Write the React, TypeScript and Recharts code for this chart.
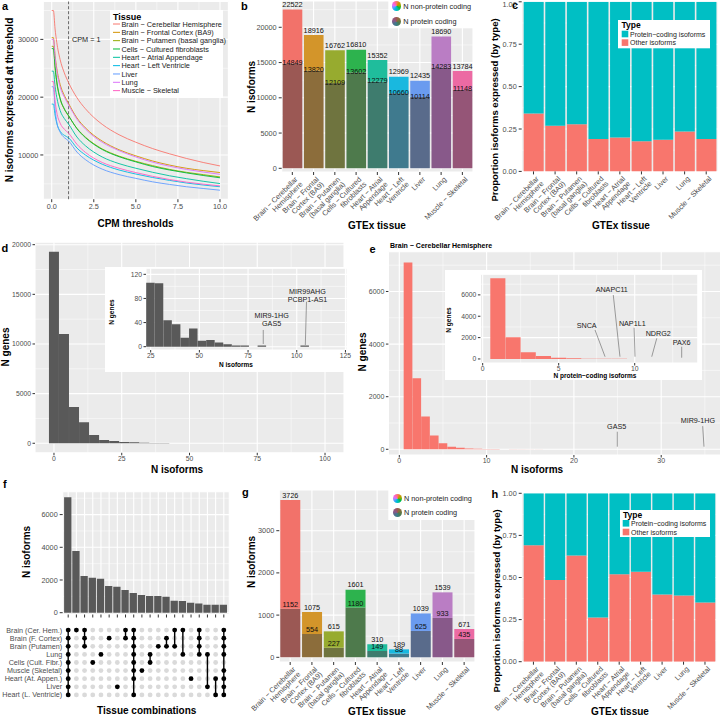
import React from 'react';
import {
  Bar,
  BarChart,
  CartesianGrid,
  Cell,
  LabelList,
  Line,
  LineChart,
  ReferenceDot,
  ReferenceLine,
  Scatter,
  ScatterChart,
  XAxis,
  YAxis,
} from 'recharts';

const FONT = '"Liberation Sans", Arial, Helvetica, sans-serif';
const PANEL = '#EBEBEB';
const TICK = '#4d4d4d';
const TICK_MAIN = { fontSize: 7.3, fill: TICK, fontFamily: FONT };
const TICK_SMALL = { fontSize: 6.8, fill: TICK, fontFamily: FONT };
const TEAL = '#00BFC4';
const SALMON = '#F8766D';

// tissues shared by a, b, c, g, h
const TISSUES = [
  'Brain − Cerebellar Hemisphere',
  'Brain − Frontal Cortex (BA9)',
  'Brain − Putamen (basal ganglia)',
  'Cells − Cultured fibroblasts',
  'Heart − Atrial Appendage',
  'Heart − Left Ventricle',
  'Liver',
  'Lung',
  'Muscle − Skeletal',
];
const TISSUE_TICKS = [
  ['Brain − Cerebellar', 'Hemisphere'],
  ['Brain − Frontal', 'Cortex (BA9)'],
  ['Brain − Putamen', '(basal ganglia)'],
  ['Cells − Cultured', 'fibroblasts'],
  ['Heart − Atrial', 'Appendage'],
  ['Heart − Left', 'Ventricle'],
  ['Liver'],
  ['Lung'],
  ['Muscle − Skeletal'],
];
const HUE = ['#F8766D', '#D39200', '#93AA00', '#00BA38', '#00C19F', '#00B9E3', '#619CFF', '#DB72FB', '#FF61C3'];
const BAR_TOP = ['#F2726A', '#D3952A', '#97AB2F', '#2DB34E', '#1FBD9C', '#19B8DF', '#6A9BEF', '#BA7DC4', '#EC6AA3'];
const BAR_BASE = ['#9B5854', '#8C6D3B', '#6F743F', '#4E7A4C', '#3E7C6E', '#3F7A8E', '#596B8B', '#88598A', '#955577'];

// a: isoforms expressed vs CPM threshold
const CPM_THRESHOLDS = [0, 0.1, 0.2, 0.3, 0.5, 0.75, 1, 1.5, 2, 2.5, 3, 4, 5, 6, 7, 8, 9, 10];
const ISO_CEREBELLAR = [35000, 35000, 31800, 29500, 26500, 24200, 22522, 19900, 18000, 16500, 15300, 13500, 12200, 11100, 10200, 9400, 8700, 8100];
const ISO_FRONTAL = [30300, 30300, 27200, 25000, 22200, 20300, 18916, 16400, 14700, 13400, 12400, 10900, 9850, 8950, 8250, 7700, 7300, 6950];
const ISO_PUTAMEN = [28800, 28800, 25000, 22500, 19700, 17900, 16762, 14600, 13100, 11950, 11050, 9800, 8900, 8150, 7500, 7000, 6600, 6200];
const ISO_CELLS = [28400, 28400, 25300, 22800, 19800, 18000, 16810, 14550, 13000, 11850, 10950, 9700, 8800, 8000, 7400, 6900, 6450, 6050];
const ISO_ATRIAL = [24500, 24500, 21900, 20000, 17700, 16300, 15352, 13100, 11600, 10500, 9650, 8500, 7700, 7000, 6400, 5900, 5450, 5050];
const ISO_LEFT_VENTRICLE = [18800, 18800, 16900, 15500, 14100, 13400, 12969, 11200, 10000, 9100, 8400, 7400, 6700, 6100, 5600, 5150, 4800, 4500];
const ISO_LIVER = [21800, 21800, 17900, 15700, 13950, 13000, 12435, 10500, 9200, 8250, 7550, 6600, 5950, 5350, 4900, 4500, 4200, 3900];
const ISO_LUNG = [30000, 30000, 26900, 24600, 21800, 20000, 18690, 16200, 14500, 13200, 12200, 10750, 9650, 8750, 8050, 7500, 7050, 6650];
const ISO_MUSCLE = [22700, 22700, 19400, 17400, 15500, 14450, 13784, 11850, 10450, 9450, 8700, 7700, 6950, 6300, 5750, 5300, 4950, 4650];
const CPM_SERIES = [ISO_CEREBELLAR, ISO_FRONTAL, ISO_PUTAMEN, ISO_CELLS, ISO_ATRIAL, ISO_LEFT_VENTRICLE, ISO_LIVER, ISO_LUNG, ISO_MUSCLE];

// b, c: all expressed isoforms at CPM 1
const ALL_TOTAL = [22522, 18916, 16762, 16810, 15352, 12969, 12435, 18690, 13784];
const ALL_PROTEIN = [14849, 13820, 12109, 13602, 12279, 10660, 10114, 14283, 11148];
const ALL_NONPROTEIN = [7673, 5096, 4653, 3208, 3073, 2309, 2321, 4407, 2636];

// g, h: tissue-specific isoforms
const SPEC_TOTAL = [3726, 1075, 615, 1601, 310, 189, 1039, 1539, 671];
const SPEC_PROTEIN = [1152, 554, 227, 1180, 149, 88, 625, 933, 435];
const SPEC_NONPROTEIN = [2574, 521, 388, 421, 161, 101, 414, 606, 236];

// d: isoforms per gene
const D_BIN_MID = [0, 3.7, 7.4, 11.1, 14.8, 18.5, 22.2, 25.9, 29.6, 33.3, 37, 40.7, 44.4, 48.1, 81.4, 103.6];
const D_GENES = [19300, 11000, 3650, 2120, 840, 340, 230, 120, 100, 45, 25, 30, 12, 10, 2, 2];
const D_INSET_MID = [24.9, 29.3, 33.7, 38.1, 42.5, 46.9, 51.3, 55.7, 60.1, 64.5, 68.9, 73.3, 82.1, 104.1];
const D_INSET_GENES = [106, 105, 44, 37, 15, 30, 10, 11, 7, 4, 2, 2, 2, 2];

// e: cerebellar hemisphere
const E_MID = [1, 2, 3, 4, 5, 6, 7, 8, 9, 10, 11, 12, 13, 14, 15, 16, 17, 18, 19, 20, 21, 22, 23, 24, 25, 26, 27, 28, 29, 30, 31, 32, 33, 34, 35];
const E_GENES = [7100, 2700, 1250, 520, 230, 100, 55, 30, 18, 12, 8, 5, 4, 3, 2, 2, 1, 1, 1, 1, 1, 1, 1, 1, 1, 1, 1, 1, 1, 1, 1, 1, 1, 1, 1];
const E_INSET_MID = [1, 2, 3, 4, 5, 6, 7, 8, 9, 10, 11, 12, 13];
const E_INSET_GENES = [7550, 2030, 625, 280, 125, 60, 30, 15, 10, 6, 4, 2, 2];

// f: tissue combinations
const MATRIX_ROWS = [
  'Brain (Cer. Hem.)',
  'Brain (F. Cortex)',
  'Brain (Putamen)',
  'Lung',
  'Cells (Cult. Fibr.)',
  'Muscle (Skeletal)',
  'Heart (At. Appen.)',
  'Liver',
  'Heart (L. Ventricle)',
];
const MATRIX_ROW_IDS = [0, 1, 2, 3, 4, 5, 6, 7, 8];
const COMBOS = [
  [0, 1, 2, 3, 4, 5, 6, 7, 8],
  [0],
  [0, 1, 2],
  [4],
  [3],
  [1],
  [7],
  [0, 1],
  [0, 1, 2, 3, 4, 5, 6, 8],
  [5],
  [3, 4],
  [2],
  [1, 2],
  [0, 2],
  [0, 3],
  [6],
  [0, 1, 2, 3],
  [3, 7],
  [6, 8],
  [0, 1, 2, 3, 5, 6, 7, 8],
];
const COMBO_ISOFORMS = [7060, 3780, 2245, 2140, 2080, 1630, 1590, 1390, 1210, 1080, 1020, 1020, 980, 735, 715, 610, 570, 490, 490, 490];

// annotations (data coordinates)
const D_NOTES = [
  { lines: ['MIR9-1HG', 'GAS5'], x: 87.1, y: 47, seg: [[82.8, 27.7], [82.8, 4.5]] },
  { lines: ['MIR99AHG', 'PCBP1-AS1'], x: 105.5, y: 88, seg: [[105, 74.6], [104.4, 2.8]] },
];
const E_NOTES = [
  { lines: ['GAS5'], x: 24.9, y: 764, seg: [[24.97, 669], [24.97, 99]] },
  { lines: ['MIR9-1HG'], x: 34.2, y: 992, seg: [[34.75, 880], [34.9, 99]] },
];
const E_INSET_NOTES = [
  { lines: ['SNCA'], x: 6.84, y: 2881, seg: [[7.39, 2712], [8.05, 212]] },
  { lines: ['ANAPC11'], x: 8.49, y: 6224, seg: [[8.59, 5990], [9.03, 212]] },
  { lines: ['NAP1L1'], x: 9.84, y: 3040, seg: [[9.96, 2928], [10.02, 212]] },
  { lines: ['NDRG2'], x: 11.55, y: 2169, seg: [[11.45, 1935], [11.12, 212]] },
  { lines: ['PAX6'], x: 13.09, y: 1289, seg: [[13.09, 1148], [13.09, 118]] },
];

const cpmRows = CPM_THRESHOLDS.map((cpm, i) => {
  const row: any = { cpm };
  CPM_SERIES.forEach((s, k) => (row['s' + k] = s[i]));
  return row;
});
const allRows = TISSUES.map((name, i) => ({ name, protein: ALL_PROTEIN[i], nonprotein: ALL_NONPROTEIN[i], total: ALL_TOTAL[i] }));
const specRows = TISSUES.map((name, i) => ({ name, protein: SPEC_PROTEIN[i], nonprotein: SPEC_NONPROTEIN[i], total: SPEC_TOTAL[i] }));
const dRows = D_BIN_MID.map((x, i) => ({ x, n: D_GENES[i] }));
const dInsetRows = D_INSET_MID.map((x, i) => ({ x, n: D_INSET_GENES[i] }));
const eRows = E_MID.map((x, i) => ({ x, n: E_GENES[i] }));
const eInsetRows = E_INSET_MID.map((x, i) => ({ x, n: E_INSET_GENES[i] }));
const comboRows = COMBO_ISOFORMS.map((n, i) => ({ combo: 'c' + i, n }));
const matrixCells = COMBOS.flatMap((_, c) => MATRIX_ROW_IDS.map((r) => ({ col: c, row: r })));

function panelGrid(minorX?: number[], minorY?: number[]) {
  return [
    <CartesianGrid
      key="minor"
      fill={PANEL}
      fillOpacity={1}
      stroke="#fff"
      strokeWidth={0.5}
      vertical={!!minorX}
      horizontal={!!minorY}
      verticalValues={minorX}
      horizontalValues={minorY}
    />,
    <CartesianGrid key="major" stroke="#fff" strokeWidth={1.1} />,
  ];
}

function rectOf(p: any) {
  return p.viewBox && typeof p.viewBox.width === 'number' ? p.viewBox : p;
}

function TotalLabel(p: any) {
  const r = rectOf(p);
  return (
    <text x={r.x + r.width / 2} y={r.y - 2.4} textAnchor="middle" fontSize={7.3} fontFamily={FONT} fill="#111">
      {p.value}
    </text>
  );
}

function SplitLabel(p: any) {
  const r = rectOf(p);
  return (
    <text x={r.x + r.width / 2} y={r.y + r.height + p.shift} textAnchor="middle" fontSize={7.3} fontFamily={FONT} fill="#111">
      {p.value}
    </text>
  );
}

function TissueTick(p: any) {
  const i = TISSUES.indexOf(p.payload?.value);
  const lines = i >= 0 ? TISSUE_TICKS[i] : [String(p.payload?.value ?? '')];
  return (
    <g transform={`translate(${p.x + 2},${p.y})`}>
      <text transform="rotate(-45)" textAnchor="end" fontSize={7.3} fill={TICK} fontFamily={FONT}>
        {lines.map((l, k) => (
          <tspan key={k} x={0} dy={k === 0 ? 5.3 : 7}>
            {l}
          </tspan>
        ))}
      </text>
    </g>
  );
}

function RowTick(p: any) {
  return (
    <text x={p.x} y={p.y} dy={2.5} textAnchor="end" fontSize={7.2} fill={TICK} fontFamily={FONT}>
      {MATRIX_ROWS[p.payload?.value] ?? ''}
    </text>
  );
}

function noteElements(notes: any[], size: number) {
  const out: any[] = [];
  notes.forEach((n, i) => {
    out.push(
      <ReferenceLine
        key={'s' + i}
        segment={[
          { x: n.seg[0][0], y: n.seg[0][1] },
          { x: n.seg[1][0], y: n.seg[1][1] },
        ]}
        stroke="#444"
        strokeWidth={0.5}
      />
    );
    out.push(
      <ReferenceDot
        key={'t' + i}
        x={n.x}
        y={n.y}
        r={0}
        shape={(p: any) => (
          <text x={p.cx} y={p.cy} textAnchor="middle" fontSize={size} fontFamily={FONT} fill="#222">
            {n.lines.map((l: string, k: number) => (
              <tspan key={k} x={p.cx} dy={k === 0 ? 0 : size * 1.12}>
                {l}
              </tspan>
            ))}
          </text>
        )}
      />
    );
  });
  return out;
}

function CountPanel(props: any) {
  const { rows, w, h, margin, yw, xh, domain, ticks, minor, bs, shift } = props;
  return (
    <BarChart width={w} height={h} data={rows} margin={margin}>
      {panelGrid(undefined, minor)}
      <XAxis
        dataKey="name"
        type="category"
        interval={0}
        height={xh}
        tickSize={3}
        tickMargin={1}
        axisLine={false}
        tickLine={{ stroke: '#333' }}
        tick={(p: any) => <TissueTick {...p} />}
        padding={{ left: 0, right: 0 }}
      />
      <YAxis type="number" domain={domain} allowDataOverflow ticks={ticks} width={yw} tickSize={3} tickMargin={2} axisLine={false} tickLine={{ stroke: '#333' }} tick={TICK_MAIN} />
      <Bar dataKey="protein" stackId="n" barSize={bs} isAnimationActive={false}>
        {rows.map((_: any, i: number) => (
          <Cell key={i} fill={BAR_BASE[i]} />
        ))}
      </Bar>
      <Bar dataKey="nonprotein" stackId="n" barSize={bs} isAnimationActive={false}>
        {rows.map((_: any, i: number) => (
          <Cell key={i} fill={BAR_TOP[i]} />
        ))}
        <LabelList dataKey="total" content={(p: any) => <TotalLabel {...p} />} />
        <LabelList dataKey="protein" content={(p: any) => <SplitLabel {...p} shift={shift} />} />
      </Bar>
    </BarChart>
  );
}

function SharePanel(props: any) {
  const { rows, w, h, margin, yw, xh, domain, bs } = props;
  return (
    <BarChart width={w} height={h} data={rows} margin={margin} stackOffset="expand">
      {panelGrid(undefined, [0.125, 0.375, 0.625, 0.875])}
      <XAxis
        dataKey="name"
        type="category"
        interval={0}
        height={xh}
        tickSize={3}
        tickMargin={1}
        axisLine={false}
        tickLine={{ stroke: '#333' }}
        tick={(p: any) => <TissueTick {...p} />}
        padding={{ left: 1, right: 1 }}
      />
      <YAxis
        type="number"
        domain={domain}
        allowDataOverflow
        ticks={[0, 0.25, 0.5, 0.75, 1]}
        tickFormatter={(v: number) => v.toFixed(2)}
        width={yw}
        tickSize={3}
        tickMargin={2}
        axisLine={false}
        tickLine={{ stroke: '#333' }}
        tick={TICK_MAIN}
      />
      <Bar dataKey="nonprotein" stackId="p" fill={SALMON} barSize={bs} isAnimationActive={false} />
      <Bar dataKey="protein" stackId="p" fill={TEAL} barSize={bs} isAnimationActive={false} />
    </BarChart>
  );
}

function Histogram(props: any) {
  const { rows, w, h, margin, yw, xh, xDomain, yDomain, xTicks, yTicks, minorX, minorY, bs, fill, tick, children } = props;
  return (
    <BarChart width={w} height={h} data={rows} margin={margin}>
      {panelGrid(minorX, minorY)}
      <XAxis type="number" dataKey="x" domain={xDomain} allowDataOverflow ticks={xTicks} height={xh} tickSize={2.5} tickMargin={1} axisLine={false} tickLine={{ stroke: '#333' }} tick={tick} />
      <YAxis type="number" domain={yDomain} allowDataOverflow ticks={yTicks} width={yw} tickSize={2.5} tickMargin={1.5} axisLine={false} tickLine={{ stroke: '#333' }} tick={tick} />
      <Bar dataKey="n" fill={fill} barSize={bs} isAnimationActive={false} />
      {children}
    </BarChart>
  );
}

function Abs({ l, t, children }: any) {
  return <div style={{ position: 'absolute', left: l, top: t }}>{children}</div>;
}

function Circle({ x, y, colors }: any) {
  return (
    <div
      style={{
        position: 'absolute',
        left: x - 4.7,
        top: y - 4.7,
        width: 9.4,
        height: 9.4,
        borderRadius: '50%',
        background: `conic-gradient(${[...colors, colors[0]].join(',')})`,
      }}
    />
  );
}

function Overlay() {
  const bold = { fontFamily: FONT, fontWeight: 700, fill: '#000' } as any;
  const rot = (x: number, y: number, s: string, size = 10) => (
    <text transform={`translate(${x},${y}) rotate(-90)`} textAnchor="middle" fontSize={size} {...bold}>
      {s}
    </text>
  );
  const hor = (x: number, y: number, s: string, size = 10) => (
    <text x={x} y={y} textAnchor="middle" fontSize={size} {...bold}>
      {s}
    </text>
  );
  return (
    <svg width={720} height={716} style={{ position: 'absolute', left: 0, top: 0, pointerEvents: 'none' }}>
      {/* panel letters */}
      <g fontSize={11} {...bold}>
        <text x={2} y={9.5}>a</text>
        <text x={241} y={9.5}>b</text>
        <text x={512} y={8.5}>c</text>
        <text x={1.5} y={252}>d</text>
        <text x={369.5} y={253}>e</text>
        <text x={3} y={488}>f</text>
        <text x={242} y={496}>g</text>
        <text x={491.5} y={498}>h</text>
      </g>

      {/* axis titles */}
      {hor(135.5, 227, 'CPM thresholds')}
      {rot(13, 100, 'N isoforms expressed at threshold')}
      {hor(377, 229, 'GTEx tissue')}
      {rot(254.5, 87, 'N isoforms')}
      {hor(621, 229, 'GTEx tissue')}
      {rot(498, 110, 'Proportion isoforms expressed (by type)', 9.5)}
      {hor(177, 473, 'N isoforms')}
      {rot(8.5, 347, 'N genes')}
      {hor(537, 473, 'N isoforms')}
      {rot(366, 352, 'N genes')}
      <text x={390} y={247.5} fontSize={7} {...bold}>Brain − Cerebellar Hemisphere</text>
      {hor(236, 367, 'N isoforms', 6.5)}
      {rot(114, 312, 'N genes', 6.5)}
      {hor(595, 378, 'N protein−coding isoforms', 6.5)}
      {rot(451, 320, 'N genes', 6.5)}
      {rot(29.5, 552, 'N isoforms')}
      {hor(146.7, 714, 'Tissue combinations')}
      {hor(377, 715, 'GTEx tissue')}
      {rot(255, 562, 'N isoforms')}
      {hor(620, 715, 'GTEx tissue')}
      {rot(499.5, 601, 'Proportion isoforms expressed (by type)', 9.5)}

      {/* legend a */}
      <rect x={110} y={10} width={113} height={88} fill="#fff" />
      <text x={113} y={19.5} fontSize={9} {...bold}>Tissue</text>
      {TISSUES.map((t, i) => {
        const cy = 24 + i * 8.33;
        return (
          <g key={t}>
            <line x1={113} x2={120} y1={cy} y2={cy} stroke={HUE[i]} strokeWidth={1} />
            <text x={121.5} y={cy + 2.6} fontSize={7.3} fontFamily={FONT} fill="#222">
              {t}
            </text>
          </g>
        );
      })}

      {/* legend b, g */}
      <rect x={388.3} y={0} width={85} height={28.3} fill="#fff" />
      <text x={403.3} y={8.6} fontSize={7.3} fontFamily={FONT} fill="#222">N non-protein coding</text>
      <text x={403.3} y={24.2} fontSize={7.3} fontFamily={FONT} fill="#222">N protein coding</text>
      <rect x={388.3} y={490} width={86.7} height={30} fill="#fff" />
      <text x={404} y={500.9} fontSize={7.3} fontFamily={FONT} fill="#222">N non-protein coding</text>
      <text x={404} y={514.9} fontSize={7.3} fontFamily={FONT} fill="#222">N protein coding</text>

      {/* legend c */}
      <rect x={618} y={20} width={92} height={28.3} fill="#fff" />
      <text x={621.5} y={28} fontSize={8.5} {...bold}>Type</text>
      <rect x={621.7} y={30.7} width={6.6} height={6.6} fill={TEAL} />
      <rect x={621.7} y={39.3} width={6.6} height={6.6} fill={SALMON} />
      <text x={630} y={36.6} fontSize={7} fontFamily={FONT} fill="#222">Protein−coding isoforms</text>
      <text x={630} y={45.3} fontSize={7} fontFamily={FONT} fill="#222">Other isoforms</text>

      {/* legend h */}
      <rect x={620} y={510} width={90} height={27} fill="#fff" />
      <text x={623} y={517.5} fontSize={8.5} {...bold}>Type</text>
      <rect x={622.7} y={520} width={6.6} height={6.6} fill={TEAL} />
      <rect x={622.7} y={528.7} width={6.6} height={6.6} fill={SALMON} />
      <text x={631} y={525.8} fontSize={7} fontFamily={FONT} fill="#222">Protein−coding isoforms</text>
      <text x={631} y={534.5} fontSize={7} fontFamily={FONT} fill="#222">Other isoforms</text>
    </svg>
  );
}

export default function App() {
  return (
    <div style={{ position: 'fixed', left: 0, top: 0, width: 720, height: 716, overflow: 'hidden', background: '#fff', fontFamily: FONT }}>
      {/* a */}
      <Abs l={0} t={0}>
        <LineChart width={240} height={232} data={cpmRows} margin={{ top: 1.5, right: 11.6, bottom: 17.8, left: 0 }}>
          {panelGrid([1.25, 3.75, 6.25, 8.75], [5000, 15000, 25000, 35000])}
          <XAxis
            type="number"
            dataKey="cpm"
            domain={[-0.5, 10.5]}
            allowDataOverflow
            ticks={[0, 2.5, 5, 7.5, 10]}
            tickFormatter={(v: number) => v.toFixed(1)}
            height={15}
            tickSize={3}
            tickMargin={2}
            axisLine={false}
            tickLine={{ stroke: '#333' }}
            tick={TICK_MAIN}
          />
          <YAxis type="number" domain={[2345, 36555]} allowDataOverflow ticks={[10000, 20000, 30000]} width={43.3} tickSize={3} tickMargin={2} axisLine={false} tickLine={{ stroke: '#333' }} tick={TICK_MAIN} />
          <ReferenceLine x={1} stroke="#333" strokeDasharray="3 2" strokeWidth={0.7} />
          <ReferenceDot x={1.2} y={30000} r={0} fill="none" stroke="none" label={{ value: 'CPM = 1', position: 'right', offset: 0, fontSize: 7.3, fill: '#222', fontFamily: FONT }} />
          {CPM_SERIES.map((_, k) => (
            <Line key={k} dataKey={'s' + k} stroke={HUE[k]} strokeWidth={0.9} dot={false} type="monotone" isAnimationActive={false} />
          ))}
        </LineChart>
      </Abs>

      {/* b */}
      <Abs l={240} t={0}>
        <CountPanel
          rows={allRows}
          w={240}
          h={232}
          margin={{ top: 1, right: 7, bottom: 2, left: 0 }}
          yw={41.7}
          xh={58}
          domain={[-525, 23730]}
          ticks={[0, 5000, 10000, 15000, 20000]}
          minor={[2500, 7500, 12500, 17500, 22500]}
          bs={19.6}
          shift={1.6}
        />
      </Abs>

      {/* c */}
      <Abs l={480} t={0}>
        <SharePanel rows={allRows} w={240} h={232} margin={{ top: 1.8, right: 2, bottom: 2.6, left: 0 }} yw={41.7} xh={58} domain={[-0.03, 1.0523]} bs={20} />
      </Abs>

      {/* d */}
      <Abs l={0} t={232}>
        <Histogram
          rows={dRows}
          w={350}
          h={245}
          margin={{ top: 10.2, right: 6, bottom: 10.2, left: 0 }}
          yw={35}
          xh={14}
          xDomain={[-7, 107]}
          yDomain={[-960, 20250]}
          xTicks={[0, 25, 50, 75, 100]}
          yTicks={[0, 5000, 10000, 15000, 20000]}
          minorX={[12.5, 37.5, 62.5, 87.5]}
          minorY={[2500, 7500, 12500, 17500]}
          bs={10}
          fill="#595959"
          tick={TICK_SMALL}
        />
      </Abs>
      <div style={{ position: 'absolute', left: 105, top: 267, width: 247, height: 105, background: '#fff' }} />
      <Abs l={105} t={266}>
        <Histogram
          rows={dInsetRows}
          w={255}
          h={106}
          margin={{ top: 2.3, right: 13, bottom: 10, left: 0 }}
          yw={41}
          xh={12}
          xDomain={[22.6, 125.8]}
          yDomain={[-5.5, 130]}
          xTicks={[25, 50, 75, 100, 125]}
          yTicks={[0, 40, 80, 120]}
          minorX={[37.5, 62.5, 87.5, 112.5]}
          minorY={[20, 60, 100]}
          bs={8.5}
          fill="#595959"
          tick={TICK_SMALL}
        >
          {noteElements(D_NOTES, 7.2)}
        </Histogram>
      </Abs>

      {/* e */}
      <Abs l={350} t={238}>
        <Histogram
          rows={eRows}
          w={380}
          h={240}
          margin={{ top: 13.7, right: 5.5, bottom: 11, left: 0 }}
          yw={38.4}
          xh={12}
          xDomain={[-1.25, 37.25]}
          yDomain={[-217, 7513]}
          xTicks={[0, 10, 20, 30]}
          yTicks={[0, 2000, 4000, 6000]}
          minorX={[5, 15, 25, 35]}
          minorY={[1000, 3000, 5000, 7000]}
          bs={8.7}
          fill={SALMON}
          tick={{ fontSize: 7, fill: TICK, fontFamily: FONT }}
        >
          {noteElements(E_NOTES, 7.2)}
        </Histogram>
      </Abs>
      <div style={{ position: 'absolute', left: 445, top: 270, width: 257, height: 110, background: '#fff' }} />
      <Abs l={445} t={270}>
        <Histogram
          rows={eInsetRows}
          w={257}
          h={110}
          margin={{ top: 4.3, right: 4.2, bottom: 7, left: 0 }}
          yw={35.4}
          xh={10}
          xDomain={[-0.15, 14.15]}
          yDomain={[-378, 7928]}
          xTicks={[0, 5, 10]}
          yTicks={[0, 2000, 4000, 6000]}
          minorX={[2.5, 7.5, 12.5]}
          minorY={[1000, 3000, 5000, 7000]}
          bs={15.1}
          fill={SALMON}
          tick={TICK_SMALL}
        >
          {noteElements(E_INSET_NOTES, 7.2)}
        </Histogram>
      </Abs>

      {/* f */}
      <Abs l={0} t={478}>
        <BarChart width={240} height={145} data={comboRows} margin={{ top: 13.7, right: 10.7, bottom: 2.5, left: 0 }}>
          {panelGrid(undefined, [1000, 3000, 5000, 7000])}
          <XAxis dataKey="combo" type="category" interval={0} height={6} tickSize={3} axisLine={false} tickLine={{ stroke: '#333' }} tick={() => <g />} padding={{ left: 1.4, right: 1.4 }} />
          <YAxis type="number" domain={[-110, 7400]} allowDataOverflow ticks={[0, 2000, 4000, 6000]} width={62.7} tickSize={3} tickMargin={2} axisLine={false} tickLine={{ stroke: '#333' }} tick={TICK_MAIN} />
          <Bar dataKey="n" fill="#595959" barSize={7.3} isAnimationActive={false} />
        </BarChart>
      </Abs>
      <Abs l={0} t={623}>
        <ScatterChart width={240} height={80} margin={{ top: 3, right: 10.7, bottom: 4, left: 0 }}>
          <XAxis type="number" dataKey="col" domain={[-0.67, 19.67]} allowDataOverflow hide />
          <YAxis
            type="number"
            dataKey="row"
            domain={[-0.5, 8.5]}
            reversed
            ticks={MATRIX_ROW_IDS}
            interval={0}
            width={62.7}
            tickSize={0}
            tickMargin={0.5}
            axisLine={false}
            tickLine={false}
            tick={(p: any) => <RowTick {...p} />}
          />
          <Scatter data={matrixCells} isAnimationActive={false} shape={(p: any) => <circle cx={p.cx} cy={p.cy} r={2.4} fill="#DADADA" />} />
          {COMBOS.map((rows, c) => (
            <Scatter
              key={c}
              data={rows.map((r) => ({ col: c, row: r }))}
              isAnimationActive={false}
              line={{ stroke: '#000', strokeWidth: 1.4 }}
              lineType="joint"
              shape={(p: any) => <circle cx={p.cx} cy={p.cy} r={2.4} fill="#000" />}
            />
          ))}
        </ScatterChart>
      </Abs>

      {/* g */}
      <Abs l={240} t={478}>
        <CountPanel
          rows={specRows}
          w={240}
          h={238}
          margin={{ top: 12, right: 5, bottom: 8, left: 0 }}
          yw={39.3}
          xh={46}
          domain={[-111, 3964]}
          ticks={[0, 1000, 2000, 3000]}
          minor={[500, 1500, 2500, 3500]}
          bs={20}
          shift={-1.9}
        />
      </Abs>

      {/* h */}
      <Abs l={480} t={478}>
        <SharePanel rows={specRows} w={240} h={238} margin={{ top: 15.3, right: 3.3, bottom: 8.3, left: 0 }} yw={41.7} xh={46} domain={[-0.028, 1.0426]} bs={20} />
      </Abs>

      <Overlay />
      <Circle x={396.7} y={6} colors={HUE} />
      <Circle x={396.7} y={21.7} colors={BAR_BASE} />
      <Circle x={397.3} y={498.3} colors={HUE} />
      <Circle x={397.3} y={512.3} colors={BAR_BASE} />
    </div>
  );
}
